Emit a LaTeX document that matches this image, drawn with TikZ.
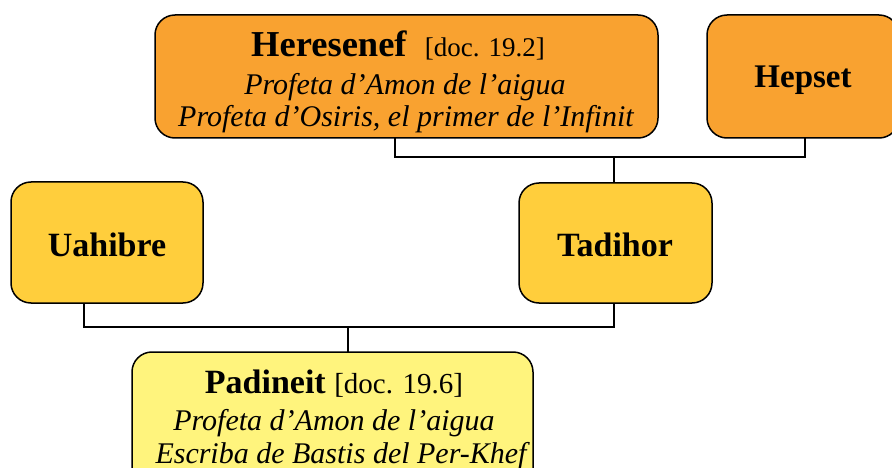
\documentclass[tikz,border=0pt]{standalone}
\usepackage{fontspec}
\setmainfont{Liberation Serif}
\definecolor{orangefill}{RGB}{249,162,48}
\definecolor{goldfill}{RGB}{255,206,60}
\definecolor{lightfill}{RGB}{255,244,125}
\newcommand\docfnt{\fontsize{29}{33}\selectfont\mdseries\upshape}
\newcommand\docfntb{\fontsize{27}{33}\selectfont\mdseries\upshape}
\begin{document}
\begin{tikzpicture}[x=1pt,y=-1pt,
  famBox/.style={draw=black,line width=1.5pt,rounded corners=20pt},
  link/.style={draw=black,line width=1.3pt},
  bname/.style={anchor=base,inner sep=0pt,font=\fontsize{34}{38}\selectfont\bfseries},
  iline/.style={anchor=base,inner sep=0pt,font=\fontsize{30}{34}\selectfont\itshape}]
\useasboundingbox (0,0) rectangle (892,468);
\clip (0,0) rectangle (892,468);
% boxes
\draw[famBox,fill=orangefill] (155,15) rectangle (658,138);
\draw[famBox,fill=orangefill] (707,15) rectangle (899,138);
\draw[famBox,fill=goldfill] (11,182) rectangle (203,303);
\draw[famBox,fill=goldfill] (519,183) rectangle (712,303);
\draw[famBox,fill=lightfill] (132,352) rectangle (533,490);
% anchor coordinates for connectors
\coordinate (herB) at (395,138);
\coordinate (hepB) at (805,138);
\coordinate (tadT) at (614,183);
\coordinate (tadB) at (614,303);
\coordinate (uahB) at (84,303);
\coordinate (padT) at (348,352);
\coordinate (j1) at (395,157);
\coordinate (j2) at (805,157);
\coordinate (j3) at (614,157);
\coordinate (k1) at (84,327);
\coordinate (k2) at (614,327);
\coordinate (k3) at (348,327);
% connectors
\draw[link] (herB) -- (j1) -- (j2) -- (hepB);
\draw[link] (tadT) -- (j3);
\draw[link] (uahB) -- (k1) -- (k2) -- (tadB);
\draw[link] (k3) -- (padT);
% texts
\node[bname,font=\fontsize{36.5}{40}\selectfont\bfseries] (her1) at (398,57) {Heresenef\ \ {\docfntb[doc. 19.2]}};
\node[iline] (her2) at (405,95) {Profeta d’Amon de l’aigua};
\node[iline] (her3) at (406,127) {Profeta d’Osiris, el primer de l’Infinit};
\node[bname,font=\fontsize{33}{38}\selectfont\bfseries] (hep) at (803,88) {Hepset};
\node[bname] (uah) at (107,256) {Uahibre};
\node[bname] (tad) at (615,256) {Tadihor};
\node[bname] (pad1) at (334,393) {Padineit {\docfnt[doc. 19.6]}};
\node[iline] (pad2) at (334,430) {Profeta d’Amon de l’aigua};
\node[iline] (pad3) at (341,463) {Escriba de Bastis del Per-Khef};
\end{tikzpicture}
\end{document}
